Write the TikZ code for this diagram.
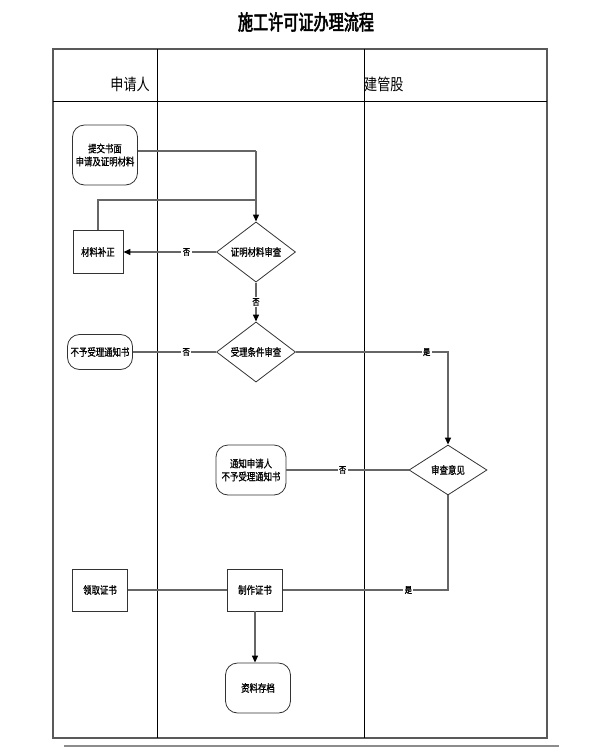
\documentclass[tikz,border=0pt]{standalone}
\usepackage{fontspec}
\usetikzlibrary{shapes.geometric,arrows.meta}
\newfontfamily\cjk[FakeStretch=0.82]{Noto Sans CJK SC}
\newfontfamily\cjkn[FakeStretch=0.8,FakeBold=1]{Noto Sans CJK SC}
\newfontfamily\cjkt[FakeStretch=0.72,FakeBold=2.5]{Noto Sans CJK SC}
\begin{document}
\begin{tikzpicture}[x=1pt,y=-1pt,
  frame/.style={draw=black,line width=1pt},
  conn/.style={draw=black!60,line width=1.4pt},
  arr/.style={conn,-{Triangle[length=7pt,width=6pt,fill=black,color=black]}},
  lab/.style={font=\cjkn\fontsize{9}{9}\selectfont,fill=white,inner sep=1.5pt},
  txt/.style={font=\cjkn\fontsize{10.5}{13}\selectfont,align=center,inner sep=0pt},
  term/.style={txt,draw=black!80,line width=0.8pt,rounded corners=12pt,minimum width=#1},
  box/.style={txt,draw=black!80,line width=0.9pt,rectangle,minimum width=55pt,minimum height=42pt},
  dec/.style={txt,draw=black!80,line width=0.8pt,diamond,minimum width=79pt,minimum height=50pt},
  hdr/.style={font=\cjk\fontsize{16}{16}\selectfont,inner sep=0pt}
]
\useasboundingbox (0,0) rectangle (592,756);
% title
\node[font=\cjkt\fontsize{21}{21}\selectfont,inner sep=0pt] (title) at (306,22) {施工许可证办理流程};
% frame
\draw[draw=black!65,line width=1.2pt] (53,49) rectangle (547,738);
\draw[frame] (53,101) -- (547,101);
\draw[frame] (157,49) -- (157,738);
\draw[frame] (364,49) -- (364,738);
\draw[draw=black!45,line width=2pt] (64,746) -- (559,746);
% headers
\node[hdr,anchor=east] (h1) at (150,84) {申请人};
\node[hdr,anchor=west] (h2) at (364,84) {建管股};
% nodes
\node[term=65pt,minimum height=60pt] (submit) at (105,155) {提交书面\\申请及证明材料};
\node[box,minimum width=50pt,minimum height=43pt] (fix) at (98,252) {材料补正};
\node[dec] (d1) at (256,252) {证明材料审查};
\node[dec] (d2) at (256,352) {受理条件审查};
\node[term=65pt,minimum height=35pt] (rej) at (100,352) {不予受理通知书};
\node[dec,minimum width=78pt] (d3) at (448,470) {审查意见};
\node[term=70pt,minimum height=50pt] (notify) at (251,470) {通知申请人\\不予受理通知书};
\node[box] (make) at (255,590) {制作证书};
\node[box] (get) at (100,590) {领取证书};
\node[term=65pt,minimum height=50pt] (arch) at (258,688) {资料存档};
\coordinate (j1) at (256,200);
\coordinate (s1) at (256,151);
% connectors
\draw[conn] (submit.east |- s1) -- (s1);
\draw[arr] (s1) -- (d1.north);
\draw[conn] (fix.north) |- (j1);
\draw[arr] (d1.west) -- node[lab,pos=0.32] {否} (fix.east);
\draw[arr] (d1.south) -- node[lab] {否} (d2.north);
\draw[conn] (d2.west) -- node[lab,pos=0.36] {否} (rej.east);
\draw[arr] (d2.east) -| node[lab,pos=0.43] {是} (d3.north);
\draw[conn] (d3.west) -- node[lab,pos=0.54] {否} (notify.east);
\draw[conn] (d3.south) |- node[lab,pos=0.62] {是} (make.east);
\draw[conn] (make.west) -- (get.east);
\draw[arr] (make.south) -- (make.south |- arch.north);
\end{tikzpicture}
\end{document}
